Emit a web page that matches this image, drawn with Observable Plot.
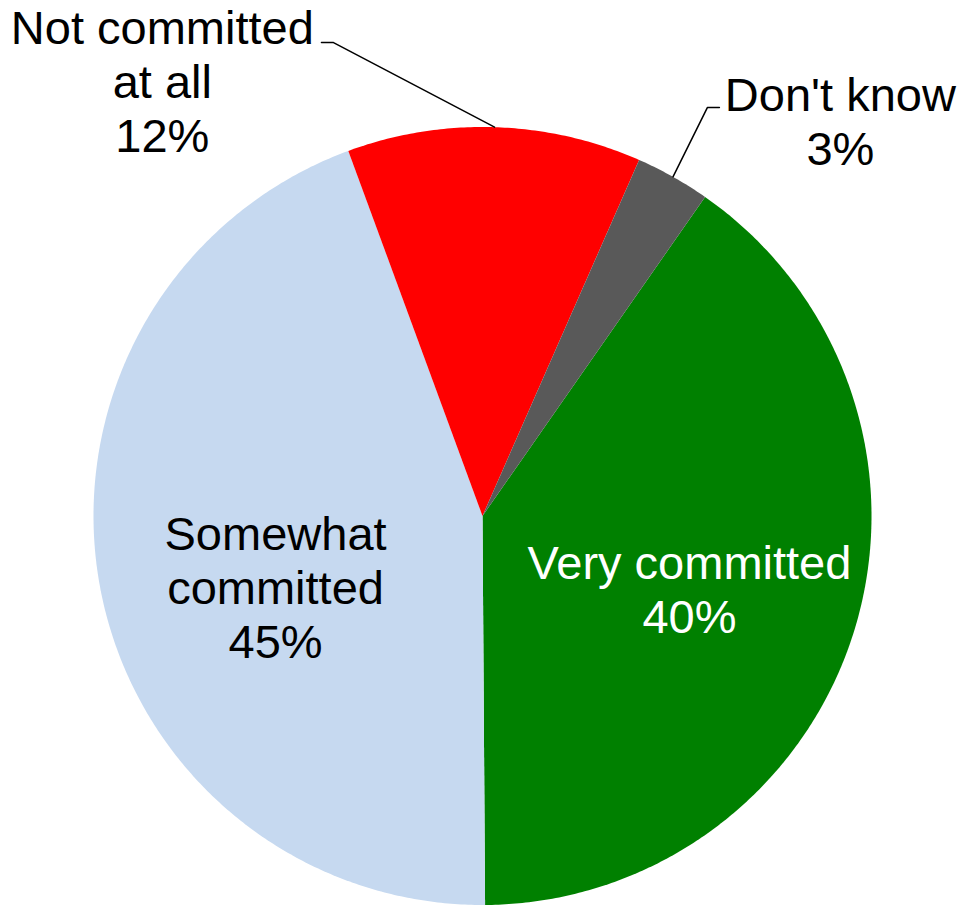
<!DOCTYPE html>
<html>
<head>
<meta charset="utf-8">
<script src="https://cdn.jsdelivr.net/npm/d3@7"></script>
<script src="https://cdn.jsdelivr.net/npm/@observablehq/plot@0.6"></script>
<style>
  html, body { margin: 0; padding: 0; background: #fff; }
  #chart svg { display: block; }
</style>
</head>
<body>
<div id="chart"></div>
<script>
// ---- data ----
const categories = ["Very committed", "Somewhat committed", "Not committed at all", "Don't know"];
const values = [40.2, 44.5, 12.2, 3.1];
const colors = ["#008000", "#c6d9f0", "#ff0000", "#595959"];
const labelLines = [
  ["Very committed", "40%"],
  ["Somewhat", "committed", "45%"],
  ["Not committed", "at all", "12%"],
  ["Don't know", "3%"]
];
const labelColors = ["white", "black", "black", "black"];

// ---- layout (in units of the pie radius) ----
const startDeg = 34.9;
const labelPos = [[0.532, -0.187], [-0.532, -0.182], [-0.823, 1.118], [0.920, 1.015]];
const leaderElbows = [null, null, [[-0.414, 1.217], [-0.383, 1.217]], [[0.609, 1.050], [0.578, 1.050]]];

// ---- geometry derived from data ----
const pie = d3.pie().sort(null).value(d => d)
  .startAngle(startDeg * Math.PI / 180)
  .endAngle(startDeg * Math.PI / 180 + 2 * Math.PI);
const arcs = pie(values);

const slicePts = [];
arcs.forEach((a, i) => {
  const cat = categories[i];
  slicePts.push({cat, x: 0, y: 0});
  const n = Math.max(2, Math.ceil((a.endAngle - a.startAngle) / (Math.PI / 360)));
  for (let k = 0; k <= n; k++) {
    const t = a.startAngle + (a.endAngle - a.startAngle) * k / n;
    slicePts.push({cat, x: Math.sin(t), y: Math.cos(t)});
  }
});

const labelRows = categories.map((c, i) => ({
  cat: c,
  text: labelLines[i].join("\n"),
  x: labelPos[i][0],
  y: labelPos[i][1],
  color: labelColors[i]
}));

const leaderPts = [];
arcs.forEach((a, i) => {
  if (!leaderElbows[i]) return;
  const mid = (a.startAngle + a.endAngle) / 2;
  leaderElbows[i].forEach(([x, y]) => leaderPts.push({cat: categories[i], x, y}));
  leaderPts.push({cat: categories[i], x: Math.sin(mid), y: Math.cos(mid)});
});

const cx = 482, cy = 515.5, R = 389;
const fs = 47;

const chart = Plot.plot({
  width: 960,
  height: 908,
  margin: 0,
  style: {fontFamily: "'Liberation Sans', Arial, sans-serif", background: "white"},
  x: {domain: [-1, 1], range: [cx - R, cx + R], axis: null},
  y: {domain: [-1, 1], range: [cy + R, cy - R], axis: null},
  color: {domain: categories, range: colors},
  marks: [
    Plot.line(slicePts, {x: "x", y: "y", z: "cat", fill: "cat", stroke: "none", curve: "linear-closed"}),
    Plot.line(leaderPts, {x: "x", y: "y", z: "cat", stroke: "black", strokeWidth: 1.5}),
    Plot.text(labelRows.filter(d => d.color === "white"), {x: "x", y: "y", text: "text", fill: "white", fontSize: fs, lineHeight: 54 / fs, textAnchor: "middle"}),
    Plot.text(labelRows.filter(d => d.color !== "white"), {x: "x", y: "y", text: "text", fill: "black", fontSize: fs, lineHeight: 54 / fs, textAnchor: "middle"})
  ]
});
document.getElementById("chart").appendChild(chart);
</script>
</body>
</html>
